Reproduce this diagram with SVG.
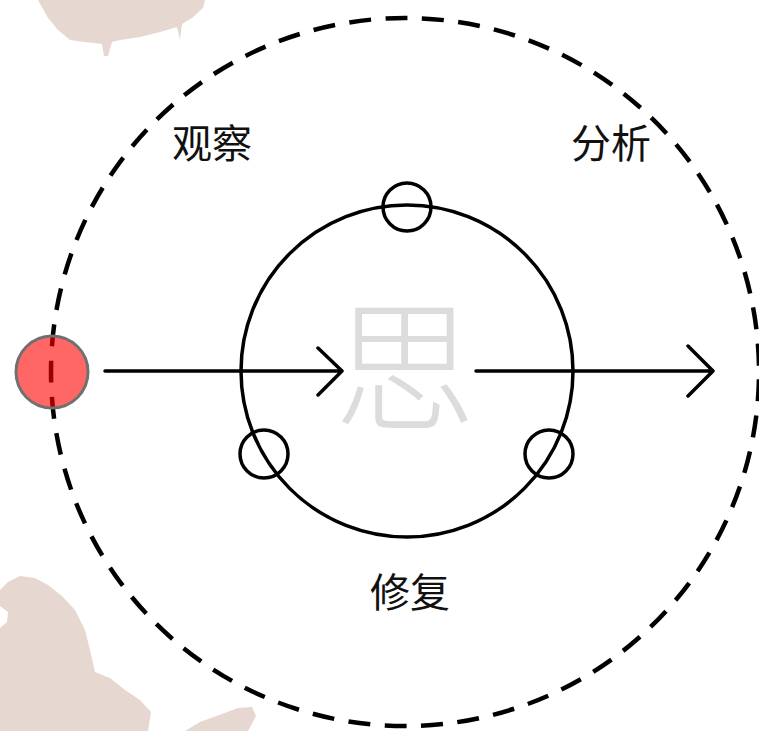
<svg xmlns="http://www.w3.org/2000/svg" width="759" height="731" viewBox="0 0 759 731">
<style>
.blob{fill:#e6d7d1;stroke:none}
.ring{fill:none;stroke:#000;stroke-width:3.5}
.dash{fill:none;stroke:#000;stroke-width:4.5;stroke-dasharray:22 14.46;stroke-dashoffset:29.16}
.conn{fill:none;stroke:#000;stroke-width:3.5;stroke-linecap:round;stroke-linejoin:round}
.lbl{font-family:"Noto Sans CJK SC","Noto Sans",sans-serif;font-size:40px;fill:#111;text-anchor:middle}
</style>
<rect width="759" height="731" fill="#fff"/>
<g id="background">
<path class="blob" d="M38,0 L205,0 L203,8 L192,18 L182,24 L180,40 L177,27 L160,32 L140,37 L120,40 L112,42 L108,56 L104,56 L102,44 L85,42 L70,40 L58,30 L48,18 Z"/>
<path class="blob" d="M0,590 L8,582 L20,576 L35,578 L48,585 L62,596 L75,610 L85,630 L90,650 L95,672 L110,678 L125,690 L140,700 L151,712 L148,731 L0,731 L0,628 L7,622 L8,612 L0,606 Z"/>
<path class="blob" d="M185,731 L200,722 L222,714 L238,708 L252,707 L256,716 L248,731 Z"/>
</g>
<g id="outer-cycle">
<circle class="dash" cx="405" cy="372" r="354"/>
</g>
<g id="inner-cycle">
<circle class="ring" cx="407" cy="371" r="166"/>
</g>
<g id="node-top"><circle class="ring" cx="407" cy="207" r="24" stroke-width="3"/></g>
<g id="node-left"><circle class="ring" cx="264" cy="454" r="24" stroke-width="3"/></g>
<g id="node-right"><circle class="ring" cx="549" cy="454" r="24" stroke-width="3"/></g>
<g id="center-char">
<text x="405" y="420" font-family="'Noto Sans CJK SC',sans-serif" font-size="142" font-weight="300" fill="#dcdcdc" text-anchor="middle">思</text>
</g>
<g id="start-node">
<circle cx="52" cy="372" r="36" fill="#ff0000" fill-opacity="0.6" stroke="#707070" stroke-width="3"/>
</g>
<g id="connectors">
<path class="conn" d="M105,371 L341,371 M318,348 L342,371 L318,395"/>
<path class="conn" d="M476,371 L712,371 M688,346 L713,371 L688,396"/>
</g>
<g id="labels">
<text class="lbl" x="212" y="158">观察</text>
<text class="lbl" x="611" y="158">分析</text>
<text class="lbl" x="410" y="607">修复</text>
</g>
</svg>
